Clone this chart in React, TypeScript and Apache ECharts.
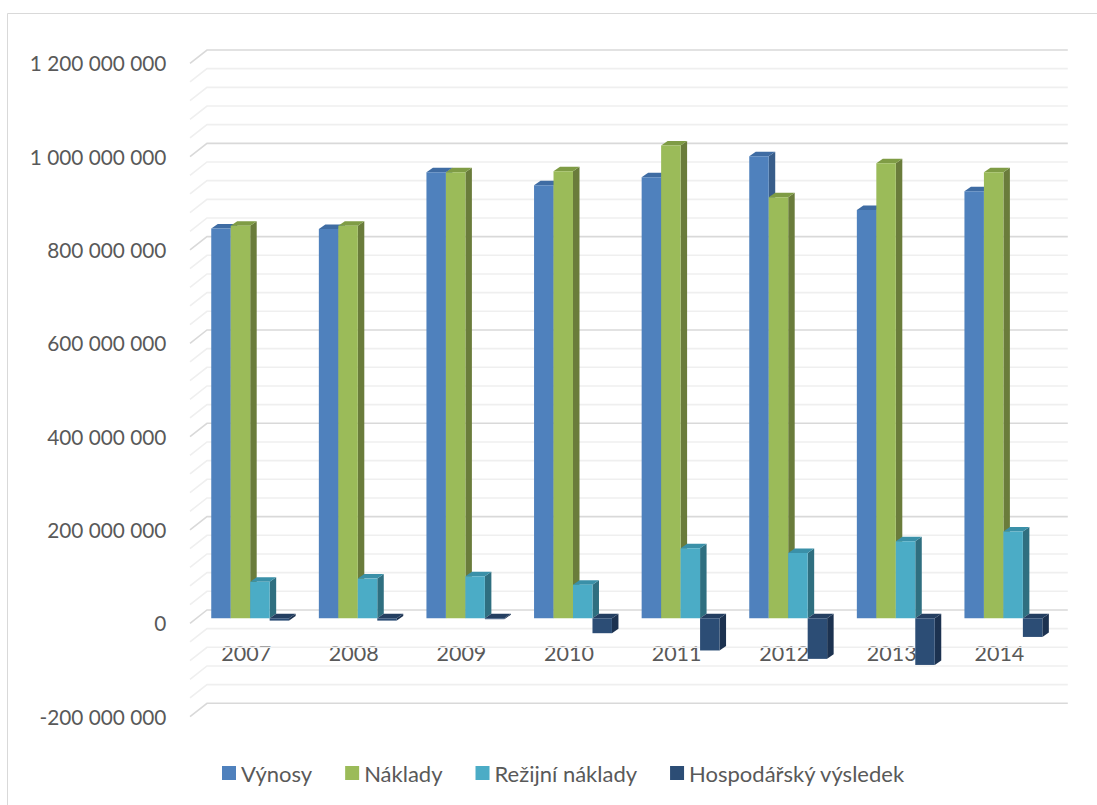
import React, { useEffect, useRef } from "react";
import * as echarts from "echarts";

const categories = ["2007", "2008", "2009", "2010", "2011", "2012", "2013", "2014"];
const seriesNames = ["Výnosy", "Náklady", "Režijní náklady", "Hospodářský výsledek"];
const vynosy = [835000000, 834000000, 956000000, 928000000, 945000000, 990000000, 875000000, 915000000];
const naklady = [841000000, 841000000, 956000000, 958000000, 1013000000, 902000000, 975000000, 956000000];
const rezijni = [78000000, 85000000, 90000000, 72000000, 150000000, 140000000, 165000000, 186000000];
const vysledek = [-5000000, -5000000, -2000000, -32000000, -69000000, -87000000, -100000000, -40000000];
const yMin = -200000000;
const yMax = 1200000000;
const yStep = 200000000;
const yMinorStep = 40000000;

const faceColors = [
  { front: "#4f81bd", top: "#3f6ca3", side: "#385d8a" },
  { front: "#9bbb59", top: "#7f9c45", side: "#6a7c3b" },
  { front: "#4bacc6", top: "#3a90a8", side: "#2f6f80" },
  { front: "#2c4d75", top: "#243f61", side: "#1c3250" },
];

const DEPTH_DX = 6.5;
const DEPTH_DY = -4.5;
const BACK_DX = 10.6;
const BACK_DY = -8.3;
const FRONT_DX = -6.4;
const FRONT_DY = 5;
const BAR_FRACTION = 0.181;

const GRID_TOP = 58.3;
const GRID_BOTTOM_Y = 711.6;
const GRID_LEFT = 196.4;
const GRID_RIGHT_X = 1057.2;

function formatNum(v: number): string {
  const neg = v < 0;
  const s = Math.abs(Math.round(v)).toString();
  const out = s.replace(/\B(?=(\d{3})+(?!\d))/g, " ");
  return (neg ? "-" : "") + out;
}

function makeBarRender(k: number) {
  const c = faceColors[k];
  return (params: any, api: any) => {
    const idx = api.value(0);
    const val = api.value(1);
    const base = api.coord([idx, 0]);
    const tip = api.coord([idx, val]);
    const band = api.size([1, 0])[0];
    const barW = band * BAR_FRACTION;
    const x0 = base[0] - 2 * barW + k * barW;
    const x1 = x0 + barW;
    const yTop = Math.min(base[1], tip[1]);
    const yBot = Math.max(base[1], tip[1]);
    return {
      type: "group",
      children: [
        {
          type: "polygon",
          shape: {
            points: [
              [x1, yTop],
              [x1 + DEPTH_DX, yTop + DEPTH_DY],
              [x1 + DEPTH_DX, yBot + DEPTH_DY],
              [x1, yBot],
            ],
          },
          style: { fill: c.side },
        },
        {
          type: "polygon",
          shape: {
            points: [
              [x0, yTop],
              [x0 + DEPTH_DX, yTop + DEPTH_DY],
              [x1 + DEPTH_DX, yTop + DEPTH_DY],
              [x1, yTop],
            ],
          },
          style: { fill: c.top },
        },
        {
          type: "rect",
          shape: { x: x0, y: yTop, width: barW, height: Math.max(yBot - yTop, 0.01) },
          style: { fill: c.front },
        },
      ],
    };
  };
}

export default function App() {
  const ref = useRef<HTMLDivElement>(null);
  useEffect(() => {
    if (!ref.current) return;
    const chart = echarts.init(ref.current, undefined, { renderer: "svg" });

    const gridValues: number[][] = [];
    for (let v = yMin; v <= yMax; v += yMinorStep) gridValues.push([0, v]);

    const allSeries = [vynosy, naklady, rezijni, vysledek];
    const gridHeight = GRID_BOTTOM_Y - GRID_TOP;
    // distance from grid bottom (yMin) up to the zero line
    const zeroOffset = (gridHeight * (0 - yMin)) / (yMax - yMin);

    const option: any = {
      animation: false,
      backgroundColor: "#ffffff",
      textStyle: { fontFamily: "Lato" },
      graphic: [
        {
          type: "rect",
          shape: { x: 7.5, y: 13.5, width: 1200, height: 900 },
          style: { fill: "none", stroke: "#d9d9d9", lineWidth: 1 },
          silent: true,
          z: -10,
        },
      ],
      grid: {
        left: GRID_LEFT,
        right: 1097 - GRID_RIGHT_X,
        top: GRID_TOP,
        bottom: 805 - GRID_BOTTOM_Y,
        containLabel: false,
      },
      legend: {
        data: seriesNames,
        left: 217,
        top: 757,
        itemWidth: 14,
        itemHeight: 14,
        itemGap: 33,
        icon: "rect",
        textStyle: { color: "#595959", fontSize: 22, fontFamily: "Lato" },
      },
      xAxis: {
        type: "category",
        data: categories,
        offset: -zeroOffset,
        axisLine: { show: false, onZero: false },
        axisTick: { show: false },
        splitLine: { show: false },
        axisLabel: {
          color: "#595959",
          fontSize: 21.5,
          fontFamily: "Lato",
          margin: 24,
          padding: [0, 8, 0, 0],
        },
      },
      yAxis: {
        type: "value",
        min: yMin,
        max: yMax,
        interval: yStep,
        axisLine: { show: false },
        axisTick: { show: false },
        splitLine: { show: false },
        axisLabel: {
          color: "#595959",
          fontSize: 20.8,
          fontFamily: "Lato",
          margin: 30,
          verticalAlign: "top",
          lineHeight: 9,
          formatter: (v: number) => formatNum(v),
        },
      },
      series: [
        {
          type: "custom",
          name: "grid",
          silent: true,
          z: 1,
          data: gridValues,
          renderItem: (params: any, api: any) => {
            const v = api.value(1);
            const cs = params.coordSys;
            const y = api.coord([0, v])[1];
            const major = Math.abs(v % yStep) < 1;
            const left = cs.x;
            const right = cs.x + cs.width;
            return {
              type: "polyline",
              shape: {
                points: [
                  [left + FRONT_DX, y + FRONT_DY],
                  [left + BACK_DX, y + BACK_DY],
                  [right + BACK_DX, y + BACK_DY],
                ],
              },
              style: { stroke: major ? "#d9d9d9" : "#efefef", lineWidth: 1.6, fill: null },
            };
          },
        },
        ...allSeries.map((arr, k) => ({
          type: "custom",
          name: seriesNames[k],
          z: 2 + k,
          itemStyle: { color: faceColors[k].front },
          data: arr.map((v, i) => [i, v]),
          renderItem: makeBarRender(k),
        })),
      ],
    };
    chart.setOption(option);
    return () => chart.dispose();
  }, []);
  return (
    <div
      ref={ref}
      style={{ position: "absolute", left: 0, top: 0, width: 1097, height: 805 }}
    />
  );
}
